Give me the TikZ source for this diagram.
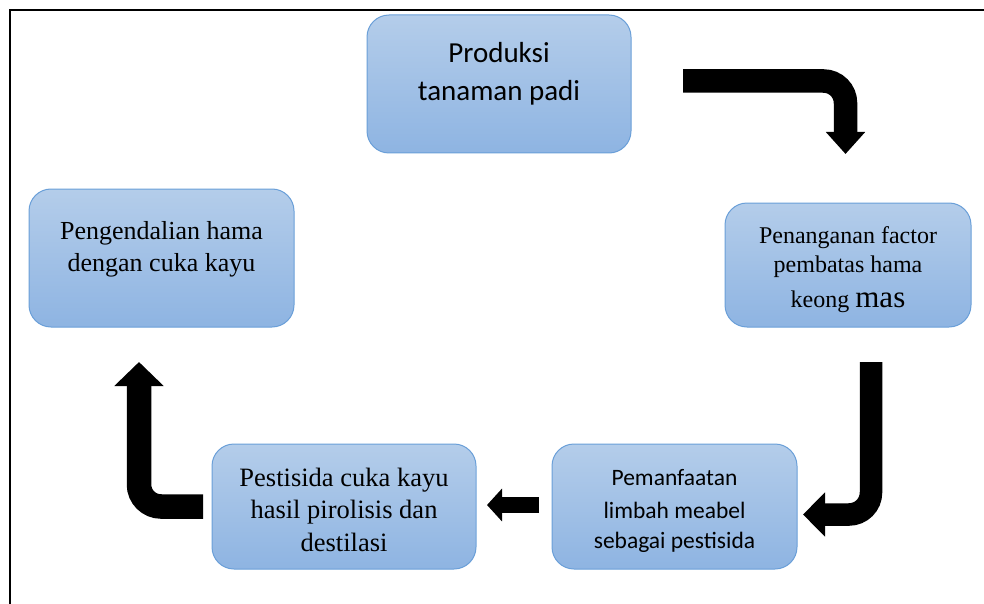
\documentclass[tikz,border=0pt]{standalone}
\usepackage{fontspec}
\newfontfamily\calfont{Carlito}
\newfontfamily\tnrfont{Liberation Serif}
\usetikzlibrary{arrows.meta}
\definecolor{boxtop}{HTML}{B4CDEA}
\definecolor{boxbot}{HTML}{8EB4E2}
\definecolor{boxedge}{HTML}{6A9FD8}
\tikzset{
  box/.style={rectangle, rounded corners=22pt, draw=boxedge, line width=1pt,
    top color=boxtop, bottom color=boxbot, inner sep=0pt},
  txt/.style={anchor=base, inner sep=0pt, text=black},
  blk/.style={draw=black, line cap=butt, line join=miter},
}
\begin{document}
\begin{tikzpicture}[x=1pt,y=-1pt]
\useasboundingbox (0,0) rectangle (984,604);
% frame
\draw[line width=2pt] (10,604) -- (10,10) -- (984,10);
% boxes
\node[box, minimum width=264pt, minimum height=138pt] (b1) at (499,84) {};
\node[box, minimum width=265pt, minimum height=138pt] (b2) at (161.5,258) {};
\node[box, minimum width=246pt, minimum height=124pt] (b3) at (848,265) {};
\node[box, minimum width=245pt, minimum height=125pt] (b4) at (674.5,506.5) {};
\node[box, minimum width=264pt, minimum height=125pt] (b5) at (344,506.5) {};
% texts
\node[txt, font=\calfont\fontsize{29}{36}\selectfont] (t1a) at (499,63) {Produksi};
\node[txt, font=\calfont\fontsize{29}{36}\selectfont] (t1b) at (499,101) {tanaman padi};
\node[txt, font=\tnrfont\fontsize{26}{32}\selectfont] (t2a) at (161.5,239) {Pengendalian hama};
\node[txt, font=\tnrfont\fontsize{26}{32}\selectfont] (t2b) at (161.5,271) {dengan cuka kayu};
\node[txt, font=\tnrfont\fontsize{24}{29}\selectfont] (t3a) at (848,243) {Penanganan factor};
\node[txt, font=\tnrfont\fontsize{24}{29}\selectfont] (t3b) at (848,272) {pembatas hama};
\node[txt, font=\tnrfont\fontsize{24}{29}\selectfont] (t3c) at (848,307) {keong {\fontsize{31}{31}\selectfont mas}};
\node[txt, font=\calfont\fontsize{23.5}{30}\selectfont] (t4a) at (674.5,485) {Pemanfaatan};
\node[txt, font=\calfont\fontsize{23.5}{30}\selectfont] (t4b) at (674.5,518) {limbah meabel};
\node[txt, font=\calfont\fontsize{23.5}{30}\selectfont] (t4c) at (674.5,548) {sebagai pestisida};
\node[txt, font=\tnrfont\fontsize{26.5}{32}\selectfont] (t5a) at (344,486) {Pestisida cuka kayu};
\node[txt, font=\tnrfont\fontsize{26.5}{32}\selectfont] (t5b) at (344,518) {hasil pirolisis dan};
\node[txt, font=\tnrfont\fontsize{26.5}{32}\selectfont] (t5c) at (344,551) {destilasi};
% arrow anchors
\coordinate (aS) at (683,81);
\coordinate (aC) at (845.5,81);
\coordinate (aE) at (845.5,154);
\coordinate (bS) at (871,362);
\coordinate (bC) at (871,514.5);
\coordinate (bE) at (803,514.5);
\coordinate (cS) at (539,505);
\coordinate (cE) at (487,505);
\coordinate (dS) at (203,506.5);
\coordinate (dC) at (139,506.5);
\coordinate (dE) at (139,362);
% arrows
\draw[blk, line width=23.5pt, rounded corners=22pt, -{Triangle[width=38pt,length=22pt]}] (aS) -- (aC) -- (aE);
\draw[blk, line width=22.5pt, rounded corners=22pt, -{Triangle[width=43pt,length=22pt]}] (bS) -- (bC) -- (bE);
\draw[blk, line width=16pt, -{Triangle[width=32pt,length=15pt]}] (cS) -- (cE);
\draw[blk, line width=24.5pt, rounded corners=22pt, -{Triangle[width=48pt,length=24pt]}] (dS) -- (dC) -- (dE);
\end{tikzpicture}
\end{document}
